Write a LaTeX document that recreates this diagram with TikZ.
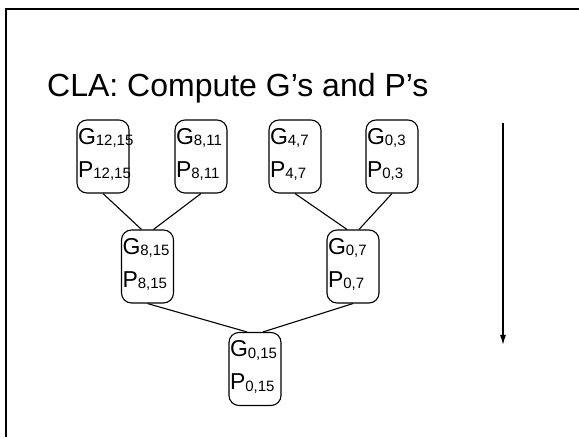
\documentclass[tikz,border=0pt]{standalone}
\usepackage{fontspec}
\setmainfont{Liberation Sans}
\usetikzlibrary{arrows.meta}
\newcommand{\lo}[1]{\raisebox{-1.5pt}{\fontsize{15}{15}\selectfont #1}}
\newcommand{\gp}[1]{G\lo{#1}\\P\lo{#1}\rule[-8pt]{0pt}{8pt}}
\begin{document}
\begin{tikzpicture}[x=1pt,y=1pt,
    gpbox/.style={draw, line width=1.1pt, rounded corners=10pt, align=left,
        text width=50pt, inner xsep=1pt, minimum height=73pt,
        font=\fontsize{23}{33}\selectfont},
    link/.style={line width=1.1pt}]
            \useasboundingbox (0,0) rectangle (579,437);
            \draw [line width=2.5pt] (6,0) -- (6,428) -- (579,428);
            \node [anchor=base west, inner sep=0pt] (title) at (47,340) {\fontsize{32}{32}\selectfont CLA: Compute G’s and P’s};
            \node [gpbox] (g1215) at (103,280.5) {\gp{12,15}};
            \node [gpbox] (g811) at (201,280.5) {\gp{8,11}};
            \node [gpbox] (g47) at (295,280.5) {\gp{4,7}};
            \node [gpbox] (g03) at (392,280.5) {\gp{0,3}};
            \node [gpbox] (g815) at (147.5,170.5) {\gp{8,15}};
            \node [gpbox] (g07) at (353,170.5) {\gp{0,7}};
            \node [gpbox] (g015) at (255,68) {\gp{0,15}};
            \draw [link] (g1215.south) -- ([xshift=-6pt]g815.north);
            \draw [link] (g811.south) -- ([xshift=6pt]g815.north);
            \draw [link] (g47.south) -- ([xshift=-6pt]g07.north);
            \draw [link] (g03.south) -- ([xshift=6pt]g07.north);
            \draw [link] (g815.south) -- ([xshift=-8pt]g015.north);
            \draw [link] (g07.south) -- ([xshift=8pt]g015.north);
            \coordinate (start) at (503,314);
            \coordinate (stop) at (503,92);
            \draw [-{Latex[length=10pt,width=6pt]}, line width=1.3pt] (start) -- (stop);
        \end{tikzpicture}
\end{document}
